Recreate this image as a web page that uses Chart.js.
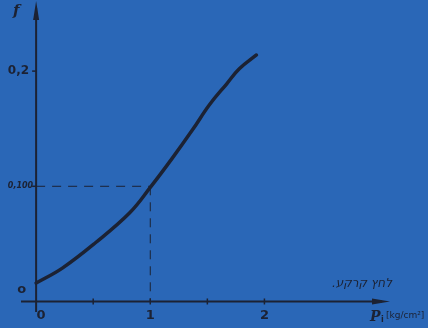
<!DOCTYPE html>
<html>
<head>
<meta charset="utf-8">
<script src="https://cdn.jsdelivr.net/npm/chart.js@4.4.1/dist/chart.umd.min.js"></script>
<style>
  html, body { margin: 0; padding: 0; background: #2a67b7; }
  canvas { display: block; }
</style>
</head>
<body>
<canvas id="chart" width="428" height="328"></canvas>
<script>
// curve
const pressure = [0, 0.23, 0.52, 0.82, 1.0, 1.19, 1.37, 1.52, 1.67, 1.78, 1.93];
const fValues = [0.016, 0.029, 0.051, 0.077, 0.099, 0.124, 0.149, 0.171, 0.189, 0.202, 0.214];

// axis ticks
const xTicks = [0, 0.5, 1, 1.5, 2];
const xTickLabels = ['0', '', '1', '', '2'];
const yTicks = [0, 0.1, 0.2];
const yTickLabels = ['o', '0,100', '0,2'];

const ink = '#1c2233';
const bg = '#2a67b7';

// draws background, axes with arrows, ticks, dashed guides and labels
const paperAxes = {
    id: 'paperAxes',
    beforeDraw(chart) {
        const c = chart.ctx;
        c.save();
        c.fillStyle = bg;
        c.fillRect(0, 0, chart.width, chart.height);
        c.restore();
    },
    beforeDatasetsDraw(chart) {
        const c = chart.ctx;
        const x = chart.scales.x;
        const y = chart.scales.y;
        const x0 = x.getPixelForValue(0);
        const y0 = y.getPixelForValue(0);
        c.save();
        c.strokeStyle = ink;
        c.fillStyle = ink;
        c.lineWidth = 2;

        // x axis
        c.beginPath();
        c.moveTo(21, y0);
        c.lineTo(382, y0);
        c.stroke();
        c.beginPath();
        c.moveTo(390, y0);
        c.lineTo(372, y0 - 3);
        c.lineTo(372, y0 + 3);
        c.closePath();
        c.fill();

        // y axis
        c.beginPath();
        c.moveTo(x0, 312);
        c.lineTo(x0, 8);
        c.stroke();
        c.beginPath();
        c.moveTo(x0, 1);
        c.lineTo(x0 - 3, 20);
        c.lineTo(x0 + 3, 20);
        c.closePath();
        c.fill();

        // x ticks
        c.lineWidth = 1.5;
        xTicks.forEach(v => {
            if (v === 0) return;
            const px = x.getPixelForValue(v);
            c.beginPath();
            c.moveTo(px, y0 - 3);
            c.lineTo(px, y0 + 3);
            c.stroke();
        });
        // y ticks
        yTicks.forEach(v => {
            if (v === 0) return;
            const py = y.getPixelForValue(v);
            c.beginPath();
            c.moveTo(x0 - 4, py);
            c.lineTo(x0, py);
            c.stroke();
        });

        // dashed guides to (1, 0.100)
        const gx = x.getPixelForValue(1);
        const gy = y.getPixelForValue(0.1);
        c.lineWidth = 1;
        c.setLineDash([9, 7]);
        c.beginPath();
        c.moveTo(x0, gy);
        c.lineTo(gx, gy);
        c.moveTo(gx, gy);
        c.lineTo(gx, y0);
        c.stroke();
        c.setLineDash([]);

        // tick labels
        c.textBaseline = 'middle';
        c.font = 'bold 13px "DejaVu Sans"';
        c.textAlign = 'center';
        xTicks.forEach((v, i) => {
            if (!xTickLabels[i]) return;
            const px = x.getPixelForValue(v) + (v === 0 ? 5 : 0);
            c.fillText(xTickLabels[i], px, y0 + 14);
        });
        c.textAlign = 'right';
        yTicks.forEach((v, i) => {
            const py = y.getPixelForValue(v);
            if (v === 0) {
                c.font = 'bold 13px "DejaVu Sans"';
                c.fillText(yTickLabels[i], x0 - 10, py - 12);
            } else if (v === 0.1) {
                c.font = 'italic bold 8px "DejaVu Sans"';
                c.fillText(yTickLabels[i], x0 - 3, py);
            } else {
                c.font = 'bold 12px "DejaVu Sans"';
                c.fillText(yTickLabels[i], x0 - 7, py);
            }
        });

        // axis titles
        c.textAlign = 'left';
        c.font = 'italic bold 15px "DejaVu Serif"';
        c.fillText('f', 13, 11);
        c.font = 'italic bold 14px "DejaVu Serif"';
        c.fillText('P', 370, 317);
        c.font = 'bold 8px "DejaVu Sans"';
        c.fillText('i', 381, 320);
        c.font = '9px "DejaVu Sans"';
        c.fillText('[kg/cm²]', 386, 316);

        // hebrew axis caption, right to left
        c.direction = 'rtl';
        c.textAlign = 'right';
        c.font = 'italic 12px "DejaVu Sans"';
        c.fillText('לחץ קרקע.', 392, 284);
        c.restore();
    }
};

const ctx = document.getElementById('chart').getContext('2d');
new Chart(ctx, {
    type: 'scatter',
    data: {
        datasets: [{
            data: pressure.map((p, i) => ({ x: p, y: fValues[i] })),
            showLine: true,
            borderColor: ink,
            borderWidth: 3.5,
            borderCapStyle: 'round',
            pointRadius: 0,
            tension: 0.4
        }]
    },
    options: {
        responsive: false,
        animation: false,
        layout: { padding: { left: 19, right: 38, top: 2, bottom: 15 } },
        plugins: { legend: { display: false }, tooltip: { enabled: false } },
        scales: {
            x: { type: 'linear', min: -0.15, max: 3.1, display: false },
            y: { type: 'linear', min: -0.01, max: 0.26, display: false }
        }
    },
    plugins: [paperAxes]
});
</script>
</body>
</html>
